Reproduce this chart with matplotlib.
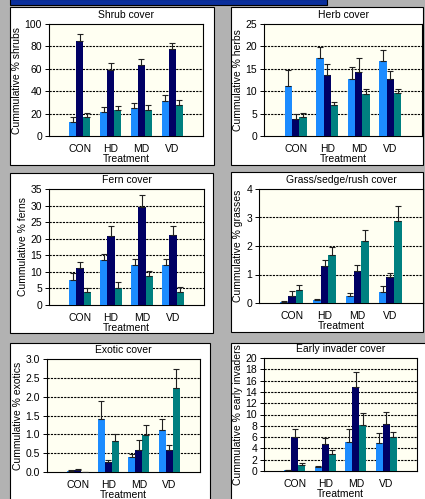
import numpy as np
import matplotlib
matplotlib.use("Agg")
import matplotlib.pyplot as plt
from matplotlib.patches import Rectangle

plt.rcParams['font.family'] = ['Liberation Sans', 'DejaVu Sans']

treatments = ['CON', 'HD', 'MD', 'VD']
colors = ['#1c8cff', '#000064', '#008080']

# each panel: three series (light blue, navy, teal), value and top of error bar
shrub_vals = [[12.5, 21.7, 25.0, 31.2], [84.8, 59.0, 63.4, 77.4], [17.3, 23.2, 23.2, 27.7]]
shrub_tops = [[16.7, 25.6, 29.2, 36.3], [91.0, 65.0, 68.5, 83.3], [20.8, 26.8, 27.4, 31.8]]

herb_vals = [[11.2, 17.4, 12.7, 16.7], [3.8, 13.6, 14.3, 12.7], [4.2, 6.9, 9.4, 9.7]]
herb_tops = [[14.7, 19.9, 15.3, 19.1], [4.9, 16.0, 17.4, 14.5], [5.2, 7.7, 10.6, 10.4]]

fern_vals = [[7.6, 13.6, 12.1, 12.1], [11.3, 20.7, 29.5, 21.0], [4.0, 5.0, 8.6, 4.0]]
fern_tops = [[9.6, 15.3, 13.9, 13.9], [13.1, 23.9, 33.3, 23.9], [5.0, 6.8, 10.3, 5.3]]

grass_vals = [[0.05, 0.12, 0.26, 0.37], [0.26, 1.29, 1.13, 0.90], [0.47, 1.70, 2.19, 2.89]]
grass_tops = [[0.07, 0.14, 0.36, 0.61], [0.42, 1.52, 1.34, 1.05], [0.62, 1.95, 2.56, 3.40]]

exotic_vals = [[0.035, 1.41, 0.39, 1.11], [0.06, 0.26, 0.58, 0.58], [0.0, 0.82, 0.98, 2.23]]
exotic_tops = [[0.04, 1.88, 0.47, 1.42], [0.07, 0.33, 0.85, 0.73], [0.0, 1.00, 1.26, 2.73]]

early_vals = [[0.18, 0.70, 5.1, 5.0], [6.0, 4.8, 14.9, 8.3], [1.07, 3.0, 8.2, 6.0]]
early_tops = [[0.22, 0.80, 7.4, 6.7], [7.4, 5.9, 17.5, 10.4], [1.4, 3.7, 10.2, 6.9]]

W, H = 425, 499
fig = plt.figure(figsize=(W / 100, H / 100), dpi=100)
fig.patch.set_facecolor('#b2b2b2')


def px_rect(l, t, r, b):
    return [l / W, 1 - b / H, (r - l) / W, (b - t) / H]


# top banner and white panel boxes, kept behind the axes
fig.patches.append(Rectangle((10 / W, 1 - 5 / H), 317 / W, 6 / H, transform=fig.transFigure,
                             facecolor='#0a2f9c', edgecolor='black', lw=0.8, zorder=-2))
boxes = [(10, 7, 214, 165), (231, 7, 423, 165), (10, 173, 213, 333),
         (231, 172, 423, 332), (10, 343, 210, 505), (231, 343, 430, 505)]
for l, t, r, b in boxes:
    fig.patches.append(Rectangle((l / W, 1 - b / H), (r - l) / W, (b - t) / H,
                                 transform=fig.transFigure, facecolor='white',
                                 edgecolor='black', lw=0.8, zorder=-2))

panels = [
    ((49, 24, 203, 136), 'Shrub cover', 'Cummulative % shrubs', shrub_vals, shrub_tops, 100, 20),
    ((264, 24, 422, 136), 'Herb cover', 'Cummulative % herbs', herb_vals, herb_tops, 25, 5),
    ((49, 189, 204, 305), 'Fern cover', 'Cummulative % ferns', fern_vals, fern_tops, 35, 5),
    ((259, 189, 423, 303), 'Grass/sedge/rush cover', 'Cummulative % grasses', grass_vals, grass_tops, 4, 1),
    ((47, 359, 200, 472), 'Exotic cover', 'Cummulative % exotics', exotic_vals, exotic_tops, 3, 0.5),
    ((264, 358, 417, 471), 'Early invader cover', 'Cummulative % early invaders', early_vals, early_tops, 20, 2),
]

x = np.arange(len(treatments))
bw = 0.23
for rect, title, ylabel, vals, tops, ymax, step in panels:
    ax = fig.add_axes(px_rect(*rect))
    ax.set_facecolor('#fffff2')
    for i in range(3):
        v = np.array(vals[i])
        e = np.array(tops[i]) - v
        pos = x + (i - 1) * bw
        ax.bar(pos, v, width=bw, color=colors[i], zorder=3)
        ax.errorbar(pos, v, yerr=[np.zeros_like(e), e], fmt='none', ecolor='#202020',
                    elinewidth=0.8, capsize=2, capthick=0.8, zorder=4)
    ax.set_xlim(-1, 4)
    ax.set_ylim(0, ymax)
    ticks = np.arange(0, ymax + step / 2, step)
    ax.set_yticks(ticks)
    if step < 1:
        ax.set_yticklabels([f'{t:.1f}' for t in ticks])
    else:
        ax.set_yticklabels([f'{t:g}' for t in ticks])
    for t in ticks[1:-1]:
        ax.axhline(t, color='black', lw=0.8, ls=(0, (2, 1)), zorder=2)
    ax.set_xticks(x)
    ax.set_xticklabels(treatments)
    ax.tick_params(axis='x', length=0, labelsize=7.5, pad=6)
    ax.tick_params(axis='y', length=3, width=0.7, labelsize=7.5, pad=2)
    ax.set_xlabel('Treatment', fontsize=7.5, labelpad=0)
    ax.set_ylabel(ylabel, fontsize=7.5, labelpad=2)
    ax.set_title(title, fontsize=7.5, pad=4)
    for s in ax.spines.values():
        s.set_linewidth(0.8)

fig.savefig('out.png', dpi=100, facecolor=fig.get_facecolor())
